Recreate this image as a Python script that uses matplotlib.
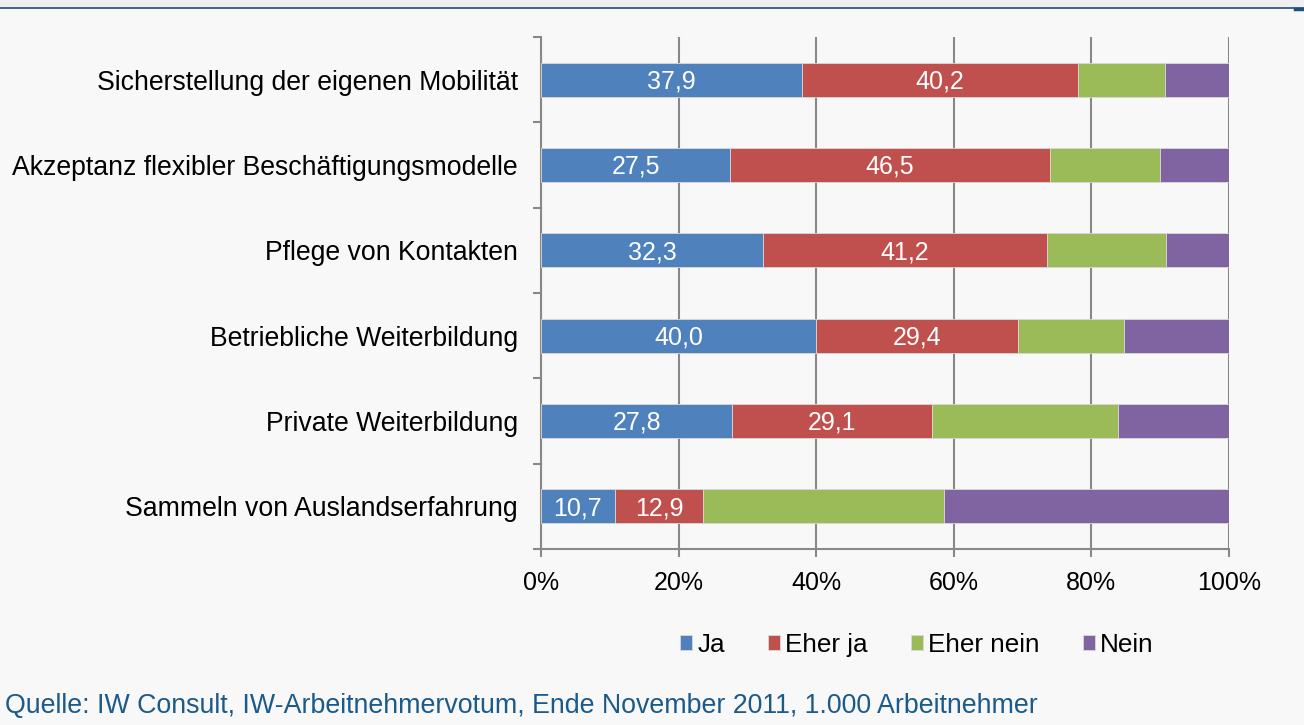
import numpy as np
import matplotlib.pyplot as plt
from matplotlib.lines import Line2D
from matplotlib.patches import Rectangle

plt.rcParams['font.family'] = ['Liberation Sans', 'DejaVu Sans']

categories = ["Sicherstellung der eigenen Mobilität",
              "Akzeptanz flexibler Beschäftigungsmodelle",
              "Pflege von Kontakten",
              "Betriebliche Weiterbildung",
              "Private Weiterbildung",
              "Sammeln von Auslandserfahrung"]
ja = [37.9, 27.5, 32.3, 40.0, 27.8, 10.7]
eher_ja = [40.2, 46.5, 41.2, 29.4, 29.1, 12.9]
eher_nein = [12.6, 16.0, 17.3, 15.3, 27.0, 35.0]
nein = [9.3, 10.0, 9.2, 15.3, 16.1, 41.4]
series_names = ["Ja", "Eher ja", "Eher nein", "Nein"]
colors = ["#4f81bd", "#c0504d", "#9bbb59", "#8064a2"]
source = "Quelle: IW Consult, IW-Arbeitnehmervotum, Ende November 2011, 1.000 Arbeitnehmer"

bg = "#f8f8f8"
fig = plt.figure(figsize=(13.04, 7.25), dpi=100, facecolor=bg)

# top strip from the page
fig.patches.append(Rectangle((0, 1 - 7 / 725), 1, 7 / 725, transform=fig.transFigure,
                             facecolor="#efefef", edgecolor="none", zorder=0))
fig.lines.append(Line2D([0, 1], [1 - 7.5 / 725] * 2, transform=fig.transFigure,
                        color="#1f4e79", lw=1.2))
fig.lines.append(Line2D([0.993, 1], [1 - 8.5 / 725] * 2, transform=fig.transFigure,
                        color="#1f4e79", lw=2.5))

ax = fig.add_axes([541 / 1304, 1 - 549 / 725, 688 / 1304, 512 / 725])
ax.set_facecolor(bg)

y = np.arange(len(categories))
left = np.zeros(len(categories))
series = [ja, eher_ja, eher_nein, nein]
for k, vals in enumerate(series):
    vals = np.array(vals)
    ax.barh(y, vals, left=left, height=0.4, color=colors[k],
            edgecolor="#d8d8d8", linewidth=0.6, zorder=3, label=series_names[k])
    if k < 2:
        for yi, l, v in zip(y, left, vals):
            ax.text(l + v / 2, yi + 0.02, f"{v:.1f}".replace(".", ","), ha="center",
                    va="center", color="white", fontsize=18, zorder=4)
    left += vals

ax.set_xlim(0, 100)
ax.set_ylim(len(categories) - 0.5, -0.5)
ax.set_xticks(np.arange(0, 101, 20))
ax.set_xticklabels([f"{v}%" for v in range(0, 101, 20)], fontsize=18)
ax.set_yticks(y)
ax.set_yticklabels(categories, fontsize=19.2)
ax.set_yticks(np.arange(-0.5, len(categories), 1), minor=True)
ax.tick_params(axis="y", which="major", length=0, pad=16.5)
ax.tick_params(axis="y", which="minor", length=6, color="#888888", width=1.5)
ax.tick_params(axis="x", length=6, color="#888888", width=1.5, pad=10)
ax.grid(axis="x", color="#888888", lw=1.5, zorder=0)
for s in ["top", "right"]:
    ax.spines[s].set_visible(False)
for s in ["left", "bottom"]:
    ax.spines[s].set_color("#888888")
    ax.spines[s].set_linewidth(1.5)

fig.legend(loc="center", bbox_to_anchor=(917 / 1304, 1 - 645 / 725), ncol=4,
           frameon=False, fontsize=18.8, handlelength=0.46, handleheight=0.48,
           handletextpad=0.2, columnspacing=1.65)

fig.text(5 / 1304, 1 - 706 / 725, source, color="#1b5a8a", fontsize=19.25,
         ha="left", va="center")

fig.savefig("out.png", dpi=100, facecolor=bg)
